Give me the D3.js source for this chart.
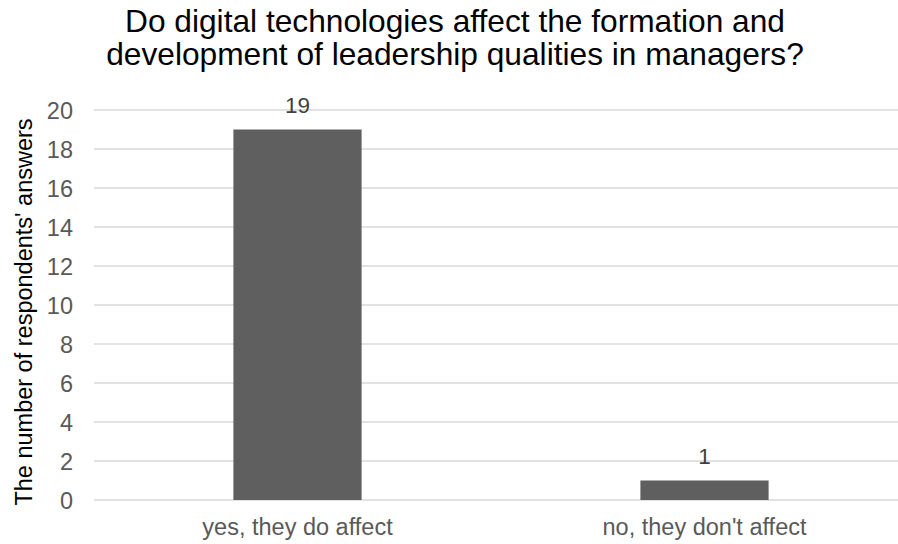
<!DOCTYPE html>
<html>
<head>
<meta charset="utf-8">
<script src="https://cdn.jsdelivr.net/npm/d3@7"></script>
<style>
  body { margin: 0; background: #fff; }
  svg { font-family: "Liberation Sans", Arial, sans-serif; display: block; }
</style>
</head>
<body>
<svg id="chart" width="898" height="544"></svg>
<script>
// chart data
const categories = ["yes, they do affect", "no, they don't affect"];
const answers = [19, 1];
const yTicks = [0, 2, 4, 6, 8, 10, 12, 14, 16, 18, 20];
const titleLines = ["Do digital technologies affect the formation and",
                    "development of leadership qualities in managers?"];
const yLabel = "The number of respondents' answers";

const svg = d3.select('#chart');
const margin = { left: 94, right: -10, top: 110, bottom: 44 };
const W = 898, H = 544;

const x = d3.scaleBand()
    .domain(categories)
    .range([margin.left, W - margin.right])
    .paddingInner(0.685)
    .paddingOuter(0.3425);

const y = d3.scaleLinear()
    .domain([0, 20])
    .range([H - margin.bottom, margin.top]);

// gridlines
svg.append('g')
    .selectAll('line')
    .data(yTicks)
    .enter()
    .append('line')
    .attr('x1', margin.left)
    .attr('x2', W)
    .attr('y1', d => y(d))
    .attr('y2', d => y(d))
    .attr('stroke', '#d9d9d9')
    .attr('stroke-width', 1.5);

// y axis labels (no line)
const yAxis = svg.append('g')
    .attr('transform', `translate(${margin.left - 21},0)`)
    .call(d3.axisLeft(y).tickValues(yTicks).tickSize(0).tickPadding(0));
yAxis.select('.domain').remove();
yAxis.selectAll('text')
    .attr('font-size', '23.5px')
    .attr('font-family', '"Liberation Sans", Arial, sans-serif')
    .attr('fill', '#595959')
    .attr('dy', '0.36em');

// bars
svg.selectAll('.bar')
    .data(answers)
    .enter()
    .append('rect')
    .attr('class', 'bar')
    .attr('x', (d, i) => x(categories[i]))
    .attr('y', d => y(d))
    .attr('width', x.bandwidth())
    .attr('height', d => y(0) - y(d))
    .attr('fill', '#5f5f5f');

// value labels
svg.selectAll('.value-label')
    .data(answers)
    .enter()
    .append('text')
    .attr('class', 'value-label')
    .text(d => d)
    .attr('x', (d, i) => x(categories[i]) + x.bandwidth() / 2)
    .attr('y', d => y(d) - 17)
    .attr('text-anchor', 'middle')
    .attr('font-size', '22.5px')
    .attr('fill', '#404040');

// x axis labels
const xAxis = svg.append('g')
    .attr('transform', `translate(0,${y(0)})`)
    .call(d3.axisBottom(x).tickSize(0).tickPadding(0));
xAxis.select('.domain').remove();
xAxis.selectAll('text')
    .attr('font-size', '23.5px')
    .attr('font-family', '"Liberation Sans", Arial, sans-serif')
    .attr('fill', '#595959')
    .attr('dy', null)
    .attr('y', 35);

// title
svg.append('text')
    .attr('text-anchor', 'middle')
    .attr('font-size', '31.7px')
    .attr('fill', '#000')
    .selectAll('tspan')
    .data(titleLines)
    .enter()
    .append('tspan')
    .attr('x', 455)
    .attr('y', (d, i) => 32 + i * 33)
    .text(d => d);

// y axis title
svg.append('text')
    .attr('transform', `translate(32,${(y(0) + y(20)) / 2 + 7}) rotate(-90)`)
    .attr('text-anchor', 'middle')
    .attr('font-size', '23.5px')
    .attr('fill', '#000')
    .text(yLabel);
</script>
</body>
</html>
